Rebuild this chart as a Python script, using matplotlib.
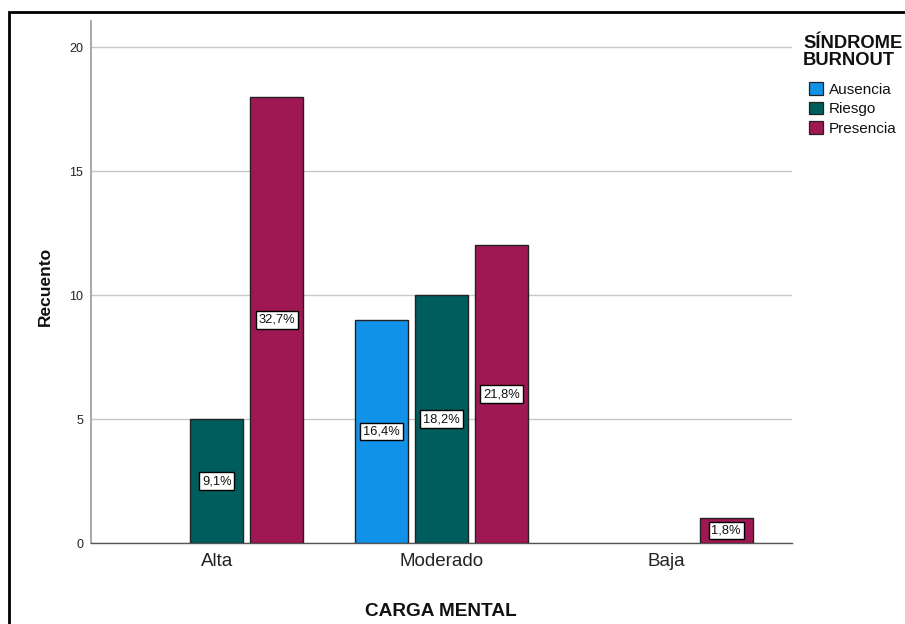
import matplotlib
matplotlib.use("Agg")
import matplotlib.pyplot as plt
from matplotlib.patches import Rectangle, Patch
import numpy as np

plt.rcParams['font.family'] = ['Liberation Sans', 'DejaVu Sans']

categories = ["Alta", "Moderado", "Baja"]
series_names = ["Ausencia", "Riesgo", "Presencia"]
counts = {
    "Ausencia": [0, 9, 0],
    "Riesgo": [5, 10, 0],
    "Presencia": [18, 12, 1],
}
percent_labels = {
    "Ausencia": [None, "16,4%", None],
    "Riesgo": ["9,1%", "18,2%", None],
    "Presencia": ["32,7%", "21,8%", "1,8%"],
}
colors = {"Ausencia": "#1192e8", "Riesgo": "#005d5d", "Presencia": "#9f1853"}

W, H = 905, 624
fig = plt.figure(figsize=(W / 100, H / 100), dpi=100)
ax = fig.add_axes([91 / W, 1 - 543 / H, (792 - 91) / W, (543 - 21) / H])

x = np.arange(len(categories))
width = 0.235
offsets = [-0.267, 0.0, 0.267]

for name, off in zip(series_names, offsets):
    vals = counts[name]
    for xi, v, lab in zip(x, vals, percent_labels[name]):
        if v <= 0:
            continue
        ax.bar(xi + off, v, width=width, color=colors[name],
               edgecolor="#222222", linewidth=1.0, zorder=3)
        if lab:
            ax.text(xi + off, v / 2, lab, ha="center", va="center", fontsize=9.3,
                    color="#111111", zorder=4,
                    bbox=dict(boxstyle="square,pad=0.22", facecolor="white",
                              edgecolor="black", linewidth=1.0))

ax.set_xlim(-0.56, 2.56)
ax.set_ylim(0, 21.05)
ax.set_yticks([0, 5, 10, 15, 20])
ax.set_xticks(x)
ax.set_xticklabels(categories, fontsize=13.5, color="#222222")
ax.tick_params(axis="y", length=0, pad=5.5, labelsize=9, labelcolor="#222222")
ax.tick_params(axis="x", length=0, pad=7.5)
ax.yaxis.grid(True, color="#c8c8c8", linewidth=1.0, zorder=0)
ax.set_axisbelow(True)
for s in ["top", "right"]:
    ax.spines[s].set_visible(False)
ax.spines["left"].set_color("#999999")
ax.spines["bottom"].set_color("#555555")
ax.spines["left"].set_linewidth(1.2)
ax.spines["bottom"].set_linewidth(1.0)

# axis titles
fig.text(45 / W, 1 - 286.5 / H, "Recuento", rotation=90, ha="center", va="center",
         fontsize=12.5, fontweight="bold", color="#111111")
fig.text(440.5 / W, 1 - 616 / H, "CARGA MENTAL", ha="center", va="baseline",
         fontsize=13.7, fontweight="bold", color="#111111")

# legend
fig.text(803 / W, 1 - 48 / H, "SÍNDROME", ha="left", va="baseline",
         fontsize=13.2, fontweight="bold", color="#111111")
fig.text(803 / W, 1 - 65 / H, "BURNOUT", ha="left", va="baseline",
         fontsize=13.2, fontweight="bold", color="#111111")
handles = [Patch(facecolor=colors[n], edgecolor="#222222", linewidth=0.9) for n in series_names]
leg = fig.legend(handles, series_names, loc="upper left",
                 bbox_to_anchor=(809 / W, 1 - 82 / H), frameon=False,
                 fontsize=11, handlelength=0.92, handleheight=0.92,
                 handletextpad=0.4, labelspacing=0.32, borderpad=0.0,
                 borderaxespad=0.0)
for t in leg.get_texts():
    t.set_color("#111111")

# outer frame around the chart
fig.patches.append(Rectangle((8.5 / W, -0.05), 2.0, 1 - 11.5 / H + 0.05,
                             transform=fig.transFigure, fill=False,
                             edgecolor="black", linewidth=2.0))

fig.savefig("out.png", dpi=100)
